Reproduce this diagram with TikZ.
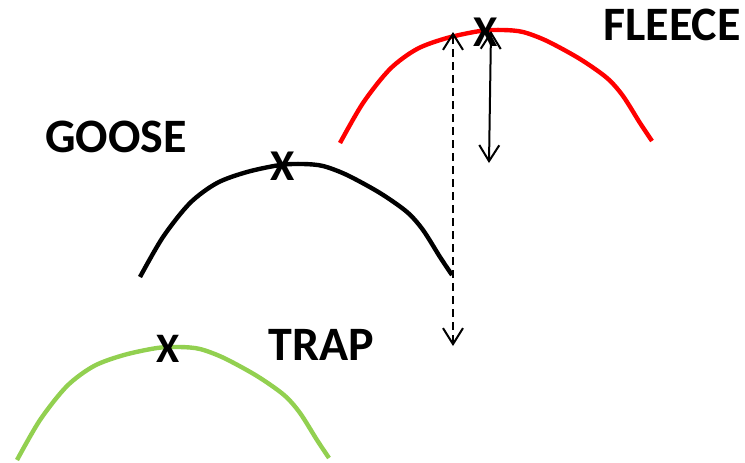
\documentclass[tikz,border=0pt]{standalone}
\usepackage{fontspec}
\setmainfont{Carlito}
\usepackage{tikz}
\usetikzlibrary{arrows.meta, positioning}
\definecolor{leaf}{RGB}{146,208,80}

\begin{document}
\begin{tikzpicture}[
    x=0.5pt, y=-0.5pt,
    >={Straight Barb[length=8pt, width=10pt]},
    word/.style={font=\fontsize{24}{27}\selectfont\bfseries, anchor=base west, inner sep=0pt},
    cross/.style={font=\fontsize{22}{25}\selectfont\bfseries, inner sep=0pt},
    thincross/.style={font=\fontsize{21}{24}\selectfont\bfseries, inner sep=0pt},
    move/.style={<->, line width=1pt},
    hump/.pic={
        \draw[line width=2.2pt, #1] plot[smooth, tension=0.5] coordinates {
            (0,0) (23,-40) (50,-74) (77,-94) (107,-105) (140,-112) (163,-113)
            (183,-111) (207,-102) (240,-84) (267,-65) (283,-47) (300,-20) (312,-2)};
    }
]
\useasboundingbox (0,0) rectangle (745,462);

% Kurven
\pic at (140,277) {hump=black};
\pic at (340,143) {hump=red};
\pic at (17,460) {hump=leaf};

% Markierungen
\node[cross] (xgoose) at (283,166) {X};
\node[cross] (xfleece) at (486,32) {X};
\node[thincross] (xtrap) at (168,349) {X};

% Beschriftungen
\node[word] (goose) at (45,152) {GOOSE};
\node[word] (fleece) at (603,40) {FLEECE};
\node[word] (trap) at (268,360) {TRAP};

% Pfeile
\coordinate (deeptop) at (453,32);
\coordinate (deepbot) at (453,346);
\coordinate (flattop) at (491,31);
\coordinate (flatbot) at (489,163);
\draw[move, dash pattern=on 4pt off 2.5pt] (deepbot) -- (deeptop);
\draw[move] (flatbot) -- (flattop);

\end{tikzpicture}
\end{document}
